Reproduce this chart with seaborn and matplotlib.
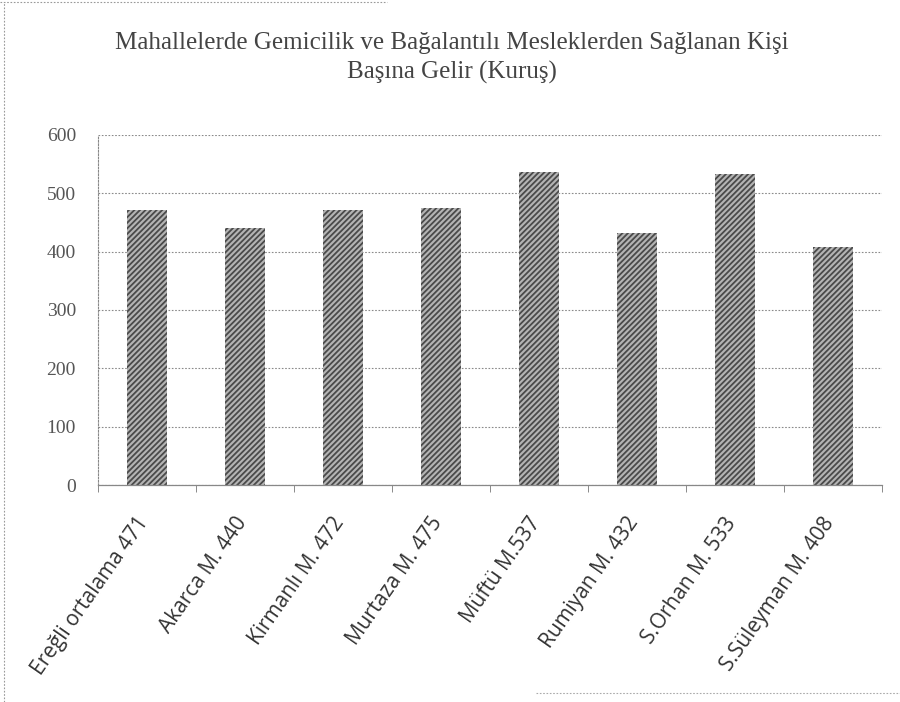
import numpy as np
import pandas as pd
import seaborn as sns
import matplotlib.pyplot as plt
import matplotlib.transforms as mtrans
from matplotlib.lines import Line2D

# data
mahalleler = ['Ereğli ortalama 471', 'Akarca M. 440', 'Kirmanlı M. 472',
              'Murtaza M. 475', 'Müftü M.537', 'Rumiyan M. 432',
              'S.Orhan M. 533', 'S.Süleyman M. 408']
gelir = [471, 440, 472, 475, 537, 432, 533, 408]
yticks = [0, 100, 200, 300, 400, 500, 600]

title = ('Mahallelerde Gemicilik ve Bağalantılı Mesleklerden Sağlanan Kişi\n'
         'Başına Gelir (Kuruş)')


def main():
    sns.set_style('white')
    plt.rcParams['hatch.linewidth'] = 1.3
    df = pd.DataFrame({'mahalle': mahalleler, 'gelir': gelir})

    fig = plt.figure(figsize=(9, 7.02), dpi=100)
    ax = fig.add_axes([0.109, 0.309, 0.871, 0.499])

    sns.barplot(data=df, x='mahalle', y='gelir', color='#b4b4b4',
                width=0.4, ax=ax, saturation=1)
    for bar in ax.patches:
        bar.set_hatch('//////')
        bar.set_edgecolor('#4a4a4a')
        bar.set_linewidth(0)

    ax.set_ylim(0, 600)
    ax.set_xlim(-0.5, len(mahalleler) - 0.5)
    ax.set_yticks(yticks)
    ax.set_yticklabels([str(v) for v in yticks], family='Liberation Serif',
                       fontsize=14, color='#555555')
    ax.tick_params(axis='y', length=0, pad=16)

    ax.set_xticks(range(len(mahalleler)))
    ax.set_xticklabels(mahalleler, rotation=55, ha='right', va='bottom',
                       rotation_mode='anchor', family='Open Sans',
                       fontsize=15, color='#333333')
    ax.tick_params(axis='x', length=0, pad=29)
    # nudge the slanted labels a little to the right
    shift = mtrans.ScaledTranslation(6 / 100, 0, fig.dpi_scale_trans)
    for lab in ax.get_xticklabels():
        lab.set_transform(lab.get_transform() + shift)
    # small ticks between categories
    ax.set_xticks(np.arange(-0.5, len(mahalleler), 1), minor=True)
    ax.tick_params(axis='x', which='minor', length=5, color='#777777',
                   direction='out', bottom=True)

    ax.set_axisbelow(True)
    ax.yaxis.grid(True, linestyle=(0, (1.5, 1.5)), color='#8a8a8a', linewidth=0.8)
    ax.xaxis.grid(False)
    for s in ['top', 'right']:
        ax.spines[s].set_visible(False)
    ax.spines['left'].set_linestyle((0, (1.5, 1.5)))
    ax.spines['left'].set_color('#888888')
    ax.spines['left'].set_linewidth(0.8)
    ax.spines['bottom'].set_color('#888888')
    ax.spines['bottom'].set_linewidth(0.9)
    ax.set_xlabel('')
    ax.set_ylabel('')

    fig.text(0.502, 0.955, title, ha='center', va='top', family='Liberation Serif',
             fontsize=18, color='#444444', linespacing=1.4)

    # scanned page edges
    fig.add_artist(Line2D([0.004, 0.004], [0, 0.997], color='#999999',
                          linestyle=(0, (1.5, 1.5)), linewidth=0.8))
    fig.add_artist(Line2D([0, 0.43], [0.997, 0.997], color='#999999',
                          linestyle=(0, (1.5, 1.5)), linewidth=0.8))
    fig.add_artist(Line2D([0.595, 1.0], [0.013, 0.013], color='#aaaaaa',
                          linestyle=(0, (1.5, 1.5)), linewidth=0.8))

    fig.savefig('out.png', dpi=100)


if __name__ == '__main__':
    main()
